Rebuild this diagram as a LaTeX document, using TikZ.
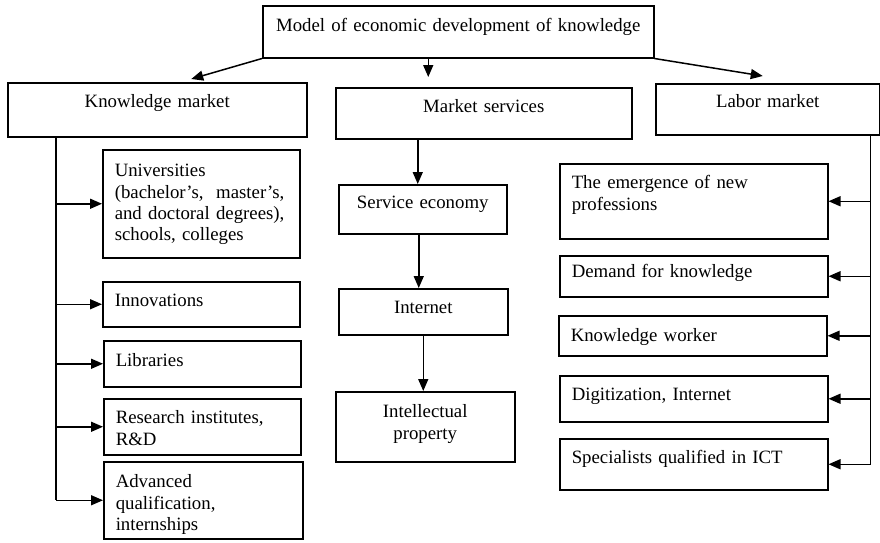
\documentclass[tikz,border=0pt]{standalone}
\usepackage{fontspec}
\setmainfont{Liberation Serif}
\usetikzlibrary{arrows.meta}

\begin{document}
\begin{tikzpicture}[x=1pt,y=-1pt,
		block/.style={draw, line width=1.5pt, anchor=north west, inner ysep=0pt,
			font=\fontsize{18.8}{21.3}\selectfont},
		lblock/.style={block, inner xsep=12pt, align=left},
		cblock/.style={block, inner xsep=0pt, align=center},
		wire/.style={line width=1.5pt},
		link/.style={wire, -{Triangle[length=12pt,width=10pt]}}]
			\useasboundingbox (0,0) rectangle (880,542);
			
			% Top of the model
			\node[cblock, text width=391pt, text height=26pt, text depth=26pt] (model) at (262,5) {Model of economic development of knowledge};
			
			% Three markets
			\node[cblock, text width=299pt, text height=25pt, text depth=29pt] (know) at (7,82) {Knowledge market};
			\node[cblock, text width=296pt, text height=25pt, text depth=26pt] (serv) at (335,87) {Market services};
			\node[cblock, text width=224pt, text height=24pt, text depth=27pt] (labor) at (655,83) {Labor market};
			
			\draw[link] (model.south west) -- ([xshift=34pt,yshift=3pt]know.north);
			\draw[link] ([xshift=-30pt]model.south) -- ([xshift=-30pt,yshift=10pt]model.south |- serv.north);
			\draw[link] (model.south east) -- ([xshift=-5pt,yshift=7pt]labor.north);
			
			% Knowledge market column
			\node[lblock, text width=173pt, text height=27pt, text depth=81pt] (univ) at (102,149) {Universities\\(bachelor’s,\ \ master’s,\\and doctoral degrees),\\schools, colleges};
			\node[lblock, text width=173pt, text height=25pt, text depth=20pt] (innov) at (102,281) {Innovations};
			\node[lblock, text width=173pt, text height=26pt, text depth=20pt] (libr) at (103,340) {Libraries};
			\node[lblock, text width=173pt, text height=25pt, text depth=31pt] (rsrch) at (103,398) {Research institutes,\\R\&D};
			\node[lblock, text width=175pt, text height=26pt, text depth=51pt] (advq) at (103,461) {Advanced\\qualification,\\internships};
			
			\coordinate (ktrunk) at ([xshift=49pt]know.south west);
			\draw[wire] (ktrunk) -- (ktrunk |- advq.west);
			\draw[link] (ktrunk |- univ.west) -- (univ.west);
			\draw[link] (ktrunk |- innov.west) -- (innov.west);
			\draw[link] (ktrunk |- libr.west) -- (libr.west);
			\draw[link] (ktrunk |- rsrch.west) -- (rsrch.west);
			\draw[link] (ktrunk |- advq.west) -- (advq.west);
			
			% Market services column
			\node[cblock, text width=168pt, text height=24pt, text depth=25pt] (svec) at (338,184) {Service economy};
			\node[cblock, text width=169pt, text height=25pt, text depth=21pt] (inet) at (338,288) {Internet};
			\node[cblock, text width=179pt, text height=26pt, text depth=44pt] (intel) at (335,391) {Intellectual\\property};
			
			\draw[link] ([xshift=-5pt]svec.north |- serv.south) -- ([xshift=-5pt]svec.north);
			\draw[link] ([xshift=-4pt]svec.south) -- ([xshift=-4pt]svec.south |- inet.north);
			\draw[link] (inet.south) -- (inet.south |- intel.north);
			
			% Labor market column
			\node[lblock, text width=244pt, text height=25pt, text depth=50pt] (emerg) at (559,163) {The emergence of new\\professions};
			\node[lblock, text width=244pt, text height=22pt, text depth=19pt] (dmnd) at (559,255) {Demand for knowledge};
			\node[lblock, text width=244pt, text height=26pt, text depth=14pt] (kwork) at (558,315) {Knowledge worker};
			\node[lblock, text width=244pt, text height=25pt, text depth=21pt] (digit) at (559,375) {Digitization, Internet};
			\node[lblock, text width=244pt, text height=25pt, text depth=26pt] (spec) at (559,438) {Specialists qualified in ICT};
			
			\coordinate (ltrunk) at ([xshift=-10pt]labor.south east);
			\draw[wire] (ltrunk) -- (ltrunk |- spec.east);
			\draw[link] (ltrunk |- emerg.east) -- (emerg.east);
			\draw[link] (ltrunk |- dmnd.east) -- (dmnd.east);
			\draw[link] (ltrunk |- kwork.east) -- (kwork.east);
			\draw[link] (ltrunk |- digit.east) -- (digit.east);
			\draw[link] (ltrunk |- spec.east) -- (spec.east);
		\end{tikzpicture}
\end{document}
